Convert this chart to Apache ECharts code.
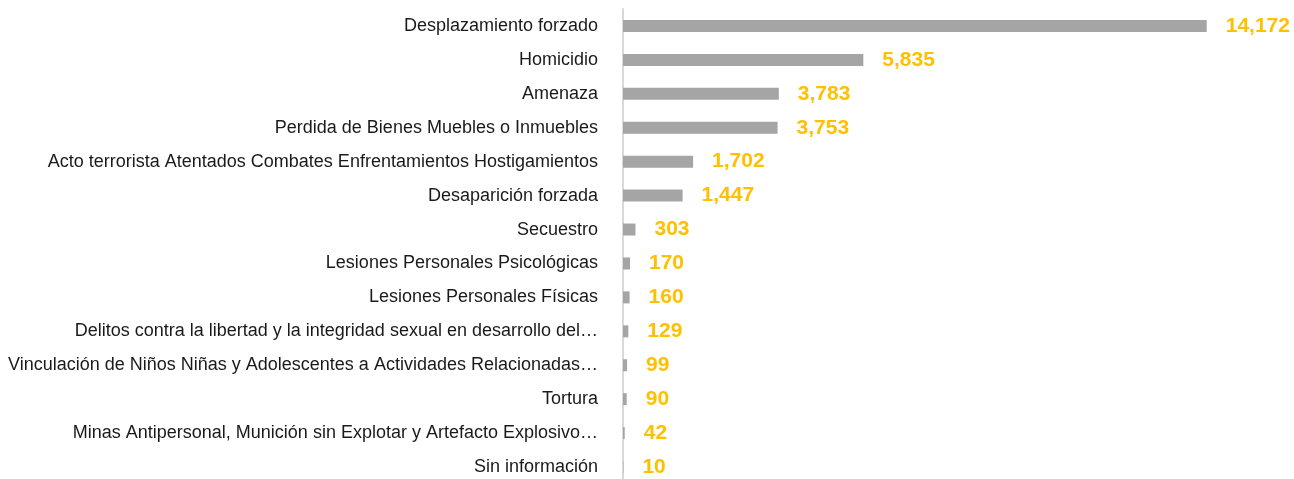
<!DOCTYPE html>
<html>
<head>
<meta charset="utf-8">
<script src="https://cdn.jsdelivr.net/npm/echarts@6/dist/echarts.min.js"></script>
<style>
html,body{margin:0;padding:0;background:#fff;}
#chart{width:1294px;height:479px;}
</style>
</head>
<body>
<div id="chart"></div>
<script>
const categories = [
  "Desplazamiento forzado",
  "Homicidio",
  "Amenaza",
  "Perdida de Bienes Muebles o Inmuebles",
  "Acto terrorista Atentados Combates Enfrentamientos Hostigamientos",
  "Desaparición forzada",
  "Secuestro",
  "Lesiones Personales Psicológicas",
  "Lesiones Personales Físicas",
  "Delitos contra la libertad y la integridad sexual en desarrollo del…",
  "Vinculación de Niños Niñas y Adolescentes a Actividades Relacionadas…",
  "Tortura",
  "Minas Antipersonal, Munición sin Explotar y Artefacto Explosivo…",
  "Sin información"
];
const values = [14172, 5835, 3783, 3753, 1702, 1447, 303, 170, 160, 129, 99, 90, 42, 10];

const chart = echarts.init(document.getElementById('chart'));
chart.setOption({
  animation: false,
  backgroundColor: '#ffffff',
  grid: { left: 623, right: 12, top: 9, height: 475, containLabel: false, outerBoundsMode: 'none' },
  xAxis: {
    type: 'value', min: 0, max: 16000,
    show: false,
    splitLine: { show: false }
  },
  yAxis: {
    type: 'category', data: categories, inverse: true,
    axisLine: { show: true, lineStyle: { color: '#d9d9d9', width: 2 } },
    axisTick: { show: false },
    axisLabel: {
      margin: 25, color: '#1a1a1a', fontSize: 18,
      fontFamily: "'Liberation Sans', Arial, sans-serif"
    }
  },
  series: [{
    type: 'bar', data: values, barWidth: 12,
    itemStyle: { color: '#a5a5a5' },
    label: {
      show: true, position: 'right', distance: 19,
      color: '#ffc000', fontWeight: 'bold', fontSize: 21,
      fontFamily: "'Liberation Sans', Arial, sans-serif",
      formatter: p => p.value.toLocaleString('en-US')
    }
  }]
});
</script>
</body>
</html>
